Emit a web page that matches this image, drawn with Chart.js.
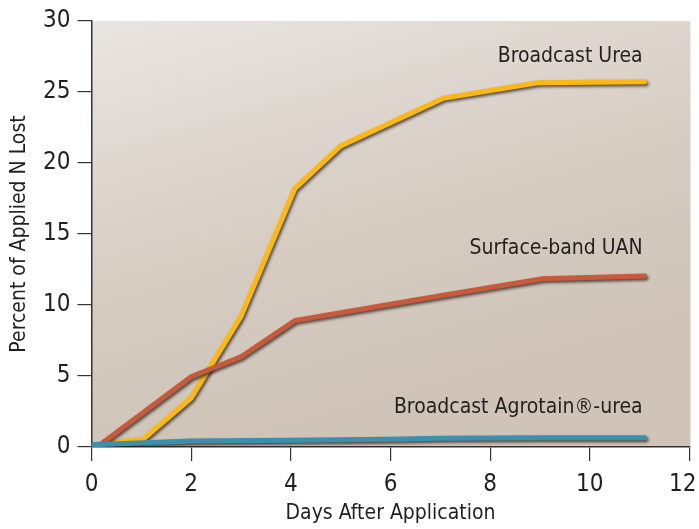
<!DOCTYPE html>
<html>
<head>
<meta charset="utf-8">
<script src="https://cdn.jsdelivr.net/npm/chart.js@4.4.1/dist/chart.umd.min.js"></script>
<style>
html,body{margin:0;padding:0;background:#fff;}
#wrap{width:699px;height:529px;position:relative;}
</style>
</head>
<body>
<div id="wrap"><canvas id="c" width="699" height="529"></canvas></div>
<script>
const FONT = '"Liberation Sans Narrow", "DejaVu Sans Condensed", "Arial Narrow", sans-serif';
const TEXT = '#231f20';

const ureaX = [0.15, 1.04, 2.0, 3.0, 4.08, 5.0, 7.05, 8.95, 11.1];
const ureaY = [0.2, 0.55, 3.45, 9.2, 18.2, 21.2, 24.55, 25.65, 25.72];
const uanX = [0.15, 2.0, 3.0, 4.08, 5.0, 7.0, 9.05, 11.1];
const uanY = [0.1, 4.95, 6.35, 8.9, 9.45, 10.65, 11.85, 12.05];
const agroX = [0.0, 2.0, 4.0, 6.0, 7.0, 9.0, 11.1];
const agroY = [0.15, 0.42, 0.48, 0.55, 0.62, 0.65, 0.66];

const seriesNames = ['Broadcast Urea', 'Surface-band UAN', 'Broadcast Agrotain\u00AE-urea'];
const labelX = [11.06, 11.06, 11.06];
const labelY = [27.5, 14.0, 2.75];

const xTicks = [0, 2, 4, 6, 8, 10, 12];
const yTicks = [0, 5, 10, 15, 20, 25, 30];
const xTitle = 'Days After Application';
const yTitle = 'Percent of Applied N Lost';

const colors = ['#fbb816', '#c65a3c', '#3d8fae'];

function pts(xs, ys){ return xs.map((x,i)=>({x:x, y:ys[i]})); }

const bgPlugin = {
  id:'bg',
  beforeDraw(chart){
    const {ctx, chartArea:a} = chart;
    const g = ctx.createLinearGradient(a.left, a.top, a.left + 120, a.bottom);
    g.addColorStop(0, '#e9e5e1');
    g.addColorStop(0.6, '#d6ccc2');
    g.addColorStop(1, '#cfc4b7');
    ctx.save();
    ctx.fillStyle = g;
    ctx.fillRect(a.left, a.top, a.right - a.left + 1, a.bottom - a.top);
    ctx.restore();
  }
};

const shadowPlugin = {
  id:'shadow',
  beforeDatasetDraw(chart){
    const ctx = chart.ctx;
    ctx.save();
    ctx.shadowColor = 'rgba(40,30,25,0.75)';
    ctx.shadowBlur = 3;
    ctx.shadowOffsetX = 1.5;
    ctx.shadowOffsetY = 2;
  },
  afterDatasetDraw(chart){
    chart.ctx.restore();
  }
};

const labelPlugin = {
  id:'labels',
  afterDatasetsDraw(chart){
    const ctx = chart.ctx;
    const xs = chart.scales.x, ys = chart.scales.y;
    ctx.save();
    ctx.font = '21px ' + FONT;
    ctx.fillStyle = TEXT;
    ctx.textAlign = 'right';
    ctx.textBaseline = 'middle';
    seriesNames.forEach((n,i)=>{
      ctx.fillText(n, xs.getPixelForValue(labelX[i]), ys.getPixelForValue(labelY[i]));
    });
    ctx.restore();
  }
};

function noPad(s){ s.paddingLeft = 0; s.paddingRight = 0; s.paddingTop = 0; s.paddingBottom = 0; }

new Chart(document.getElementById('c'), {
  type:'line',
  data:{
    datasets:[
      {label:seriesNames[2], data:pts(agroX, agroY), borderColor:colors[2]},
      {label:seriesNames[1], data:pts(uanX, uanY), borderColor:colors[1]},
      {label:seriesNames[0], data:pts(ureaX, ureaY), borderColor:colors[0]}
    ].map(d=>Object.assign(d,{borderWidth:5, pointRadius:0, tension:0, fill:false, borderCapStyle:'round', borderJoinStyle:'miter'}))
  },
  options:{
    responsive:false,
    animation:false,
    layout:{padding:{top:21, right:9.5, left:0, bottom:0}},
    plugins:{legend:{display:false}, tooltip:{enabled:false}},
    scales:{
      x:{
        type:'linear', min:0, max:12,
        afterBuildTicks(s){ s.ticks = xTicks.map(v=>({value:v})); },
        afterFit(s){ s.height = 82; noPad(s); },
        grid:{drawOnChartArea:false, drawTicks:true, tickLength:14, color:'#333', lineWidth:1.2},
        border:{display:true, color:'#333', width:1.5},
        ticks:{color:TEXT, font:{family:FONT, size:24}, padding:9, maxRotation:0,
          callback:(v)=> v === xTicks[xTicks.length-1] ? String(v) + '\u2007' : String(v)},
        title:{display:true, text:xTitle, color:TEXT, font:{family:FONT, size:21}, padding:{top:2, bottom:3}}
      },
      y:{
        type:'linear', min:0, max:30,
        afterBuildTicks(s){ s.ticks = yTicks.map(v=>({value:v})); },
        afterFit(s){ s.width = 91.5; noPad(s); },
        grid:{drawOnChartArea:false, drawTicks:true, tickLength:14, color:'#333', lineWidth:1.2},
        border:{display:true, color:'#333', width:1.5},
        ticks:{color:TEXT, font:{family:FONT, size:24}, padding:7},
        title:{display:true, text:yTitle, color:TEXT, font:{family:FONT, size:21}, padding:{top:7, bottom:0}}
      }
    }
  },
  plugins:[bgPlugin, shadowPlugin, labelPlugin]
});
</script>
</body>
</html>
